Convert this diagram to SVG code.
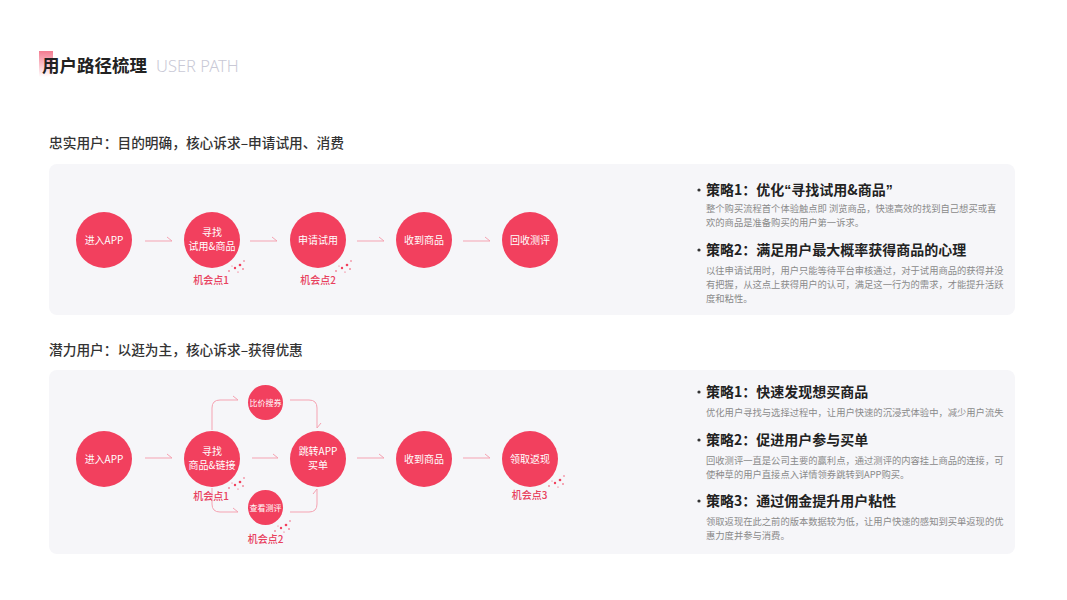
<svg xmlns="http://www.w3.org/2000/svg" width="1067" height="600" viewBox="0 0 1067 600">
<defs>
<linearGradient id="tg" x1="0" y1="0" x2="0" y2="1">
<stop offset="0" stop-color="#f26d84" stop-opacity="0.9"/>
<stop offset="1" stop-color="#f26d84" stop-opacity="0"/>
</linearGradient>
<g id="dots">
<circle cx="0" cy="10" r="0.8"/>
<circle cx="6" cy="7" r="1.2"/>
<circle cx="11" cy="4" r="1.3"/>
<circle cx="15" cy="0" r="0.7"/>
<circle cx="9" cy="11" r="0.6"/>
<circle cx="14" cy="8" r="0.8"/>
<circle cx="3" cy="5" r="0.5"/>
</g>
</defs>
<style>
text{font-family:"Noto Sans CJK SC","Noto Sans",sans-serif}
.panel{fill:#f6f6f9}
.node{fill:#f2405e}
.nt{fill:#fff;font-size:10px;text-anchor:middle}
.chance{fill:#e8405d;font-size:10px;font-weight:500;text-anchor:middle}
.sec{fill:#333;font-size:13.7px;font-weight:500}
.h{fill:#222;font-size:14px;font-weight:700}
.q{font-family:"Liberation Sans",sans-serif}
.d{fill:#8a8a8a;font-size:9.3px}
.bul{fill:#333}
.conn path{fill:none;stroke:#f5a3b2;stroke-width:1}
.dots{fill:#f2405e}
</style>
<rect width="1067" height="600" fill="#fff"/>
<g id="title">
<rect x="39" y="51" width="14" height="26" fill="url(#tg)"/>
<text x="42" y="72" style="font-size:17.5px;font-weight:700;fill:#222">用户路径梳理</text>
<text x="156" y="72" style="font-size:16.5px;font-weight:300;fill:#c9c9d6;font-family:'Noto Sans','Open Sans',sans-serif">USER PATH</text>
</g>
<text class="sec" x="49" y="148">忠实用户：目的明确，核心诉求–申请试用、消费</text>
<rect class="panel" x="49" y="164" width="966" height="151" rx="8"/>
<text class="sec" x="49" y="355">潜力用户：以逛为主，核心诉求–获得优惠</text>
<rect class="panel" x="49" y="370" width="966" height="184" rx="8"/>
<g class="conn">
<path d="M145 241H172L167 237"/>
<path d="M250 241H277L272 237"/>
<path d="M357 241H384L379 237"/>
<path d="M463 241H490L485 237"/>
<path d="M145 458H172L167 454"/>
<path d="M252 458H278L273 454"/>
<path d="M357 458H384L379 454"/>
<path d="M463 458H490L485 454"/>
<path d="M212 430V408Q212 400 220 400H238L233 396"/>
<path d="M212 488V504Q212 512 220 512H238L233 508"/>
<path d="M290 400H309Q317 400 317 408V428L321 423"/>
<path d="M290 512H309Q317 512 317 504V489L313 494"/>
</g>
<g id="n1a"><circle class="node" cx="104" cy="240" r="28"/><text class="nt" x="104" y="244">进入APP</text></g>
<g id="n1b"><circle class="node" cx="212" cy="240" r="28"/><text class="nt" x="212" y="236">寻找</text><text class="nt" x="212" y="250">试用&amp;商品</text></g>
<g id="n1c"><circle class="node" cx="318" cy="240" r="28"/><text class="nt" x="318" y="244">申请试用</text></g>
<g id="n1d"><circle class="node" cx="424" cy="240" r="28"/><text class="nt" x="424" y="244">收到商品</text></g>
<g id="n1e"><circle class="node" cx="530" cy="240" r="28"/><text class="nt" x="530" y="244">回收测评</text></g>
<text class="chance" x="211" y="284">机会点1</text>
<text class="chance" x="318" y="284">机会点2</text>
<g class="dots"><use href="#dots" x="229" y="261"/><use href="#dots" x="336" y="261"/><use href="#dots" x="229" y="478"/><use href="#dots" x="275" y="521"/><use href="#dots" x="549" y="476"/></g>
<g id="n2a"><circle class="node" cx="104" cy="459" r="28"/><text class="nt" x="104" y="463">进入APP</text></g>
<g id="n2b"><circle class="node" cx="212" cy="459" r="28"/><text class="nt" x="212" y="455">寻找</text><text class="nt" x="212" y="469">商品&amp;链接</text></g>
<g id="n2c"><circle class="node" cx="265.5" cy="402.5" r="17.5"/><text class="nt" x="265.5" y="405.5" style="font-size:8px">比价搜券</text></g>
<g id="n2d"><circle class="node" cx="265.5" cy="507.5" r="17.5"/><text class="nt" x="265.5" y="510.5" style="font-size:8px">查看测评</text></g>
<g id="n2e"><circle class="node" cx="318" cy="459" r="28"/><text class="nt" x="318" y="455">跳转APP</text><text class="nt" x="318" y="469">买单</text></g>
<g id="n2f"><circle class="node" cx="424" cy="459" r="28"/><text class="nt" x="424" y="463">收到商品</text></g>
<g id="n2g"><circle class="node" cx="530" cy="459" r="28"/><text class="nt" x="530" y="463">领取返现</text></g>
<text class="chance" x="211" y="500">机会点1</text>
<text class="chance" x="265.5" y="543">机会点2</text>
<text class="chance" x="529.5" y="499">机会点3</text>
<g id="s1">
<circle class="bul" cx="699" cy="190" r="1.6"/>
<text class="h" x="706" y="195">策略1：优化<tspan class="q">“</tspan>寻找试用&amp;商品<tspan class="q">”</tspan></text>
<text class="d" x="706" y="212">整个购买流程首个体验触点即 浏览商品，快速高效的找到自己想买或喜</text>
<text class="d" x="706" y="226">欢的商品是准备购买的用户第一诉求。</text>
<circle class="bul" cx="699" cy="250" r="1.6"/>
<text class="h" x="706" y="255">策略2：满足用户最大概率获得商品的心理</text>
<text class="d" x="706" y="274">以往申请试用时，用户只能等待平台审核通过，对于试用商品的获得并没</text>
<text class="d" x="706" y="288">有把握，从这点上获得用户的认可，满足这一行为的需求，才能提升活跃</text>
<text class="d" x="706" y="302">度和粘性。</text>
</g>
<g id="s2">
<circle class="bul" cx="699" cy="392" r="1.6"/>
<text class="h" x="706" y="397">策略1：快速发现想买商品</text>
<text class="d" x="706" y="416">优化用户寻找与选择过程中，让用户快速的沉浸式体验中，减少用户流失</text>
<circle class="bul" cx="699" cy="440" r="1.6"/>
<text class="h" x="706" y="445">策略2：促进用户参与买单</text>
<text class="d" x="706" y="464">回收测评一直是公司主要的赢利点，通过测评的内容挂上商品的连接，可</text>
<text class="d" x="706" y="478">使种草的用户直接点入详情领券跳转到APP购买。</text>
<circle class="bul" cx="699" cy="501" r="1.6"/>
<text class="h" x="706" y="506">策略3：通过佣金提升用户粘性</text>
<text class="d" x="706" y="525">领取返现在此之前的版本数据较为低，让用户快速的感知到买单返现的优</text>
<text class="d" x="706" y="539">惠力度并参与消费。</text>
</g>
</svg>
